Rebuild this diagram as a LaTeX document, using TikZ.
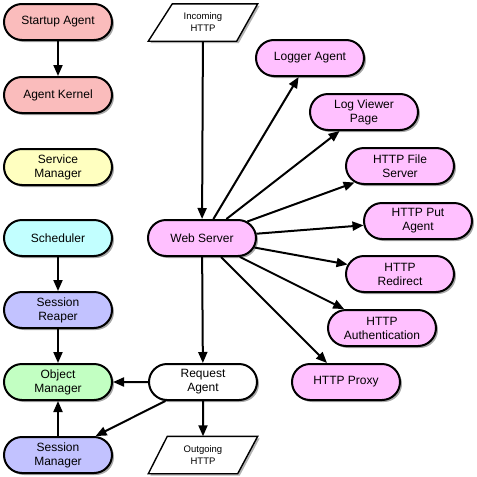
\documentclass[tikz,border=0pt]{standalone}
\usepackage{fontspec}
\setmainfont{Liberation Sans}
\usetikzlibrary{shapes.misc,shadows,arrows.meta}
\pgfdeclarelayer{bg}
\pgfsetlayers{bg,main}
\definecolor{cred}{RGB}{250,188,188}
\definecolor{cyel}{RGB}{255,255,192}
\definecolor{ccyan}{RGB}{194,255,255}
\definecolor{cblue}{RGB}{194,194,255}
\definecolor{cgreen}{RGB}{194,255,194}
\definecolor{cpink}{RGB}{255,192,255}
\tikzset{
  box/.style={rounded rectangle, draw, line width=2pt, minimum width=108pt,
    minimum height=36pt, inner sep=0pt, align=center,
    font=\fontsize{12}{14}\selectfont,
    drop shadow={shadow xshift=2pt,shadow yshift=-2pt,fill=black,opacity=0.35}},
  io/.style={rectangle, minimum width=109pt, minimum height=37pt, inner sep=0pt,
    align=center, font=\fontsize{9.5}{12}\selectfont},
  ioshape/.style={draw, line width=1.4pt, fill=white,
    drop shadow={shadow xshift=2pt,shadow yshift=-2pt,fill=black,opacity=0.3}},
  arr/.style={line width=2pt, -{Triangle[length=11pt,width=9pt]}}
}
\begin{document}
\begin{tikzpicture}[x=1pt,y=-1pt]
\useasboundingbox (0,0) rectangle (477,477);
\node[box,fill=cred] (start) at (58,22) {Startup Agent};
\node[box,fill=cred] (kern) at (58,95) {Agent Kernel};
\node[box,fill=cyel] (svc) at (58,167) {Service\\Manager};
\node[box,fill=ccyan] (sched) at (58,238) {Scheduler};
\node[box,fill=cblue] (reap) at (58,310) {Session\\Reaper};
\node[box,fill=cgreen] (objm) at (58,382) {Object\\Manager};
\node[box,fill=cblue] (sessm) at (58,455) {Session\\Manager};
\node[io] (inc) at (203,22.5) {Incoming\\HTTP};
\node[box,fill=cpink] (web) at (202,238) {Web Server};
\node[box,fill=white] (req) at (203,382) {Request\\Agent};
\node[io] (out) at (203,455) {Outgoing\\HTTP};
\begin{pgfonlayer}{bg}
\path[ioshape] (inc.south west) -- ([xshift=-21pt]inc.south east) -- (inc.north east) -- ([xshift=24pt]inc.north west) -- cycle;
\path[ioshape] (out.south west) -- ([xshift=-20pt]out.south east) -- (out.north east) -- ([xshift=19pt]out.north west) -- cycle;
\end{pgfonlayer}
\node[box,fill=cpink] (logger) at (310,58) {Logger Agent};
\node[box,fill=cpink] (logview) at (364,112) {Log Viewer\\Page};
\node[box,fill=cpink] (file) at (400,166) {HTTP File\\Server};
\node[box,fill=cpink] (put) at (418,221) {HTTP Put\\Agent};
\node[box,fill=cpink] (redir) at (400,274) {HTTP\\Redirect};
\node[box,fill=cpink] (auth) at (382,328) {HTTP\\Authentication};
\node[box,fill=cpink] (proxy) at (346,382) {HTTP Proxy};
\draw[arr] (start) -- (kern);
\draw[arr] (sched) -- (reap);
\draw[arr] (reap) -- (objm);
\draw[arr] (sessm) -- (objm);
\draw[arr] (req) -- (objm);
\draw[arr] (req) -- (sessm);
\draw[arr] (inc) -- (web);
\draw[arr] (web) -- (req);
\draw[arr] (req) -- (out);
\foreach \t in {logger,logview,file,put,redir,auth,proxy}
  \draw[arr] (web) -- (\t);
\end{tikzpicture}
\end{document}
